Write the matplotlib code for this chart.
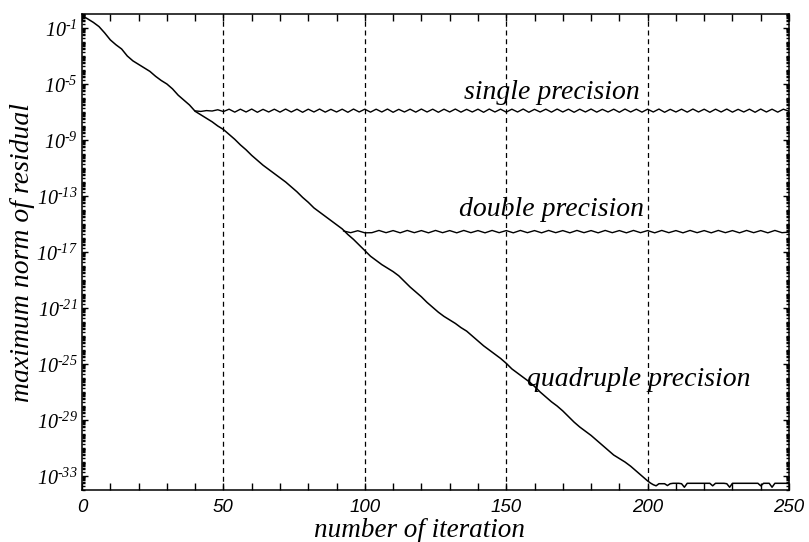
import numpy as np
import matplotlib
matplotlib.use("Agg")
import matplotlib.pyplot as plt
from matplotlib.ticker import FixedLocator, LogLocator, NullFormatter, MultipleLocator

plt.rcParams['mathtext.fontset'] = 'custom'
plt.rcParams['mathtext.rm'] = 'Liberation Serif:italic'
plt.rcParams['mathtext.it'] = 'Liberation Serif:italic'

# log10 of residual, quadruple precision, iterations 0..200 step 2
quad_log = [
    -0.12, -0.35, -0.60, -0.90, -1.35, -1.85, -2.20, -2.50, -3.00, -3.35,
    -3.60, -3.85, -4.10, -4.45, -4.75, -5.00, -5.35, -5.80, -6.15, -6.50,
    -6.95, -7.20, -7.45, -7.70, -8.00, -8.25, -8.60, -8.95, -9.35, -9.70,
    -10.10, -10.45, -10.80, -11.10, -11.40, -11.70, -12.00, -12.35, -12.70, -13.10,
    -13.45, -13.85, -14.15, -14.45, -14.75, -15.05, -15.35, -15.75, -16.10, -16.50,
    -16.90, -17.30, -17.60, -17.90, -18.15, -18.40, -18.70, -19.10, -19.50, -19.85,
    -20.20, -20.60, -20.95, -21.30, -21.60, -21.85, -22.10, -22.40, -22.65, -23.00,
    -23.35, -23.70, -24.00, -24.30, -24.60, -24.95, -25.35, -25.65, -25.95, -26.25,
    -26.60, -27.00, -27.35, -27.70, -28.00, -28.35, -28.75, -29.15, -29.50, -29.80,
    -30.10, -30.45, -30.80, -31.15, -31.50, -31.75, -32.00, -32.30, -32.65, -33.00,
    -33.35,
]
# quadruple precision floor, iterations 201..250
quad_tail_log = [
    -33.50, -33.62, -33.70, -33.55, -33.55, -33.55, -33.68, -33.55, -33.52, -33.52,
    -33.52, -33.55, -33.80, -33.52, -33.52, -33.52, -33.52, -33.52, -33.52, -33.52,
    -33.52, -33.52, -33.70, -33.52, -33.52, -33.52, -33.52, -33.55, -33.80, -33.52,
    -33.52, -33.52, -33.52, -33.52, -33.52, -33.52, -33.52, -33.52, -33.52, -33.70,
    -33.52, -33.52, -33.52, -33.80, -33.52, -33.52, -33.52, -33.52, -33.52, -33.52,
]
# single precision plateau, iterations 40..250 step 2
single_log = [
    -6.92, -6.96, -6.90, -6.93, -6.84, -6.97, -6.80, -7.01, -6.80, -7.00,
    -6.79, -7.02, -6.81, -7.00, -6.80, -7.01, -6.79, -7.00, -6.80, -7.02,
    -6.80, -7.00, -6.79, -7.01, -6.81, -7.00, -6.80, -7.02, -6.79, -7.00,
    -6.80, -7.01, -6.80, -7.00, -6.79, -7.02, -6.81, -7.00, -6.80, -7.01,
    -6.79, -7.00, -6.80, -7.02, -6.80, -7.00, -6.79, -7.01, -6.81, -7.00,
    -6.80, -7.02, -6.79, -7.00, -6.80, -7.01, -6.80, -7.00, -6.79, -7.02,
    -6.81, -7.00, -6.80, -7.01, -6.79, -7.00, -6.80, -7.02, -6.80, -7.00,
    -6.79, -7.01, -6.81, -7.00, -6.80, -7.02, -6.79, -7.00, -6.80, -7.01,
    -6.80, -7.00, -6.79, -7.02, -6.81, -7.00, -6.80, -7.01, -6.79, -7.00,
    -6.80, -7.02, -6.80, -7.00, -6.79, -7.01, -6.81, -7.00, -6.80, -7.02,
    -6.79, -7.00, -6.80, -7.01, -6.80, -6.95,
]
# double precision plateau, iterations 92.5..250 step 2.5
double_log = [
    -15.50, -15.62, -15.48, -15.63, -15.62, -15.46, -15.62, -15.47, -15.63, -15.46,
    -15.62, -15.47, -15.63, -15.46, -15.62, -15.47, -15.63, -15.46, -15.62, -15.47,
    -15.63, -15.46, -15.62, -15.47, -15.63, -15.46, -15.62, -15.47, -15.63, -15.46,
    -15.62, -15.47, -15.63, -15.46, -15.62, -15.47, -15.63, -15.46, -15.62, -15.47,
    -15.63, -15.46, -15.62, -15.47, -15.63, -15.46, -15.62, -15.47, -15.63, -15.46,
    -15.62, -15.47, -15.63, -15.46, -15.62, -15.47, -15.63, -15.46, -15.62, -15.47,
    -15.63, -15.46, -15.62, -15.58,
]

quad_it = np.concatenate([np.arange(0, 201, 2), np.arange(201, 251)])
quad_val = 10.0 ** np.array(quad_log + quad_tail_log)
single_it = np.arange(40, 251, 2)
double_it = np.arange(92.5, 250.1, 2.5)

serif = 'Liberation Serif'

fig = plt.figure(figsize=(8.09, 5.42), dpi=100)
ax = fig.add_axes([0.1014, 0.0959, 0.8739, 0.8783])

ax.plot(quad_it, quad_val, color='black', lw=1.1)
ax.plot(single_it, 10.0 ** np.array(single_log), color='black', lw=1.0)
ax.plot(double_it, 10.0 ** np.array(double_log), color='black', lw=1.0)

for xg in [50, 100, 150, 200]:
    ax.axvline(xg, color='black', lw=0.9, ls=(0, (4, 3)), zorder=0)

ax.set_yscale('log')
ax.set_xlim(0, 250)
ax.set_ylim(1e-34, 1e0)

ax.xaxis.set_major_locator(FixedLocator([0, 50, 100, 150, 200, 250]))
ax.xaxis.set_minor_locator(MultipleLocator(10))
ax.yaxis.set_major_locator(FixedLocator([10.0 ** e for e in range(-1, -34, -4)]))
ax.yaxis.set_minor_locator(LogLocator(base=10, subs=np.arange(1, 10), numticks=300))
ax.yaxis.set_minor_formatter(NullFormatter())
ax.set_yticklabels([r'$10^{\text{-%d}}$' % (-e) for e in range(-1, -34, -4)])

ax.tick_params(axis='x', which='both', direction='in', top=True, bottom=True,
               length=5, width=1, pad=6.5)
ax.tick_params(axis='y', which='major', direction='in', left=True, right=True,
               length=4, width=1, pad=3, labelsize=14.5)
ax.tick_params(axis='y', which='minor', direction='in', left=True, right=True,
               length=2.5, width=1)
for lab in ax.get_xticklabels():
    lab.set_family('Liberation Sans')
    lab.set_style('italic')
    lab.set_fontsize(13.5)
for sp in ax.spines.values():
    sp.set_linewidth(1.1)

ax.set_xlabel('number of iteration', family=serif, style='italic', fontsize=19.5)
ax.set_ylabel('maximum norm of residual', family=serif, style='italic', fontsize=20)
ax.xaxis.set_label_coords(0.478, -0.058)
ax.yaxis.set_label_coords(-0.066, 0.5)

ax.text(166, 10 ** -5.6, 'single precision', family=serif, style='italic',
        fontsize=20, ha='center', va='center')
ax.text(166, 10 ** -14.0, 'double precision', family=serif, style='italic',
        fontsize=20, ha='center', va='center')
ax.text(197, 10 ** -26.1, 'quadruple precision', family=serif, style='italic',
        fontsize=20, ha='center', va='center')

fig.savefig('out.png', dpi=100)
